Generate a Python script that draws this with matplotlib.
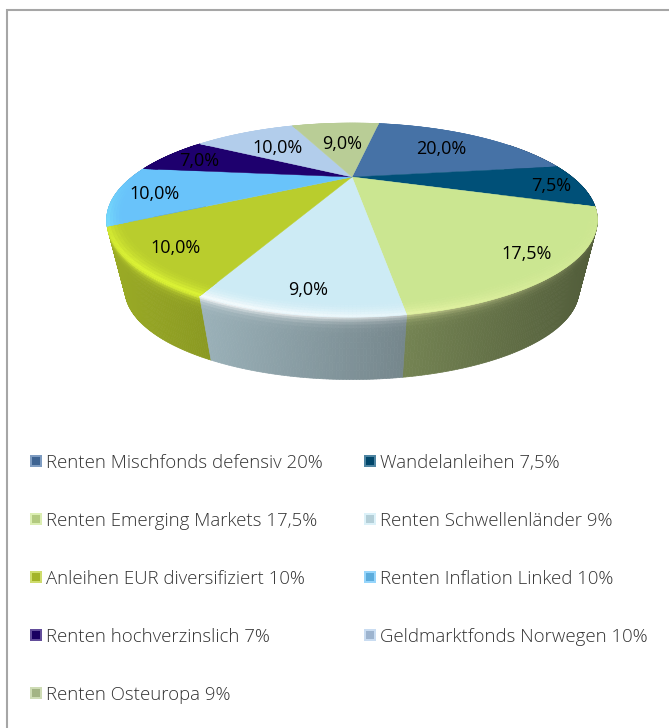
import numpy as np
import matplotlib
matplotlib.use("Agg")
import matplotlib.pyplot as plt
from matplotlib.collections import PolyCollection
from matplotlib.colors import to_rgb

# data
values = [20, 7.5, 17.5, 9, 10, 10, 7, 10, 9]
legend_labels = [
    "Renten Mischfonds defensiv 20%", "Wandelanleihen 7,5%",
    "Renten Emerging Markets 17,5%", "Renten Schwellenländer 9%",
    "Anleihen EUR diversifiziert 10%", "Renten Inflation Linked 10%",
    "Renten hochverzinslich 7%", "Geldmarktfonds Norwegen 10%",
    "Renten Osteuropa 9%",
]
colors = ["#4672a6", "#005078", "#cbe691", "#cdebf5", "#b9cd2d",
          "#69c3fa", "#1e006e", "#b2cdeb", "#b9cd96"]
label_radius = [0.67, 0.87, 0.87, 0.88, 0.86, 0.85, 0.825, 0.64, 0.58]

# pie geometry, in pixels
start_angle = 10
cx, cy = 352, 177
A, B, k = 220, 78, 0.443
bottom_scale, bottom_cy = 0.925, 250

plt.rcParams["font.family"] = ["Open Sans", "DejaVu Sans"]


def project(r, ang, scale=1.0, center_y=cy):
    # circle on the table -> screen, with perspective (back is smaller)
    a = np.radians(ang)
    x = r * np.sin(a)
    y = r * np.cos(a)
    w = 1 + k * y
    return cx + scale * A * x / w, center_y - scale * B * y / w


def mix(c, other, t):
    return tuple(np.array(c) * (1 - t) + np.array(other) * t)


def bright(c):
    return tuple(np.clip(np.array(c) * 1.25, 0, 1))


def front_light(ang, x):
    # the rim only catches light on the front, fading to the right
    f = max(0, -np.cos(np.radians(ang))) * (1 - (x - 107) / 560)
    return min(1, f * 1.4)


fig = plt.figure(figsize=(6.69, 7.28), dpi=100)
ax = fig.add_axes([0, 0, 1, 1])
ax.set_xlim(0, 669)
ax.set_ylim(728, 0)
ax.axis("off")

# frame
ax.plot([6.5, 6.5, 669], [728, 10, 10], color="#a6a6a6", lw=1.5, solid_joinstyle="miter")

edges = start_angle + np.concatenate([[0], np.cumsum(values)]) * 3.6

# side wall, back to front
strips = []
levels = np.linspace(0, 1, 15) ** 2
for i, v in enumerate(values):
    base = to_rgb(colors[i])
    angs = np.linspace(edges[i], edges[i + 1], max(int(v * 7), 8))
    for a0, a1 in zip(angs[:-1], angs[1:]):
        if np.cos(np.radians(a0)) > 0.5:
            continue
        for v0, v1 in zip(levels[:-1], levels[1:]):
            pts = []
            for a, t in [(a0, v0), (a1, v0), (a1, v1), (a0, v1)]:
                xt, yt = project(1, a)
                xb, yb = project(1, a, bottom_scale, bottom_cy)
                pts.append((xt + (xb - xt) * t, yt + (yb - yt) * t))
            xm = pts[0][0]
            shade = 0.84 - (xm - 107) / 490 * 0.44
            wall = mix(base, (0, 0, 0), 1 - shade)
            glow = np.exp(-v0 * 64 / 3.5) * front_light(a0, xm)
            col = mix(wall, bright(base), glow)
            strips.append((np.cos(np.radians((a0 + a1) / 2)), pts, col))
strips.sort(key=lambda s: -s[0])
polys = [s[1] for s in strips]
fcs = [s[2] for s in strips]
ax.add_collection(PolyCollection(polys, facecolors=fcs, edgecolors=fcs, linewidths=0.5))

# top surface with a soft bevel on the rim
polys, fcs = [], []
for i, v in enumerate(values):
    base = to_rgb(colors[i])
    angs = np.linspace(edges[i], edges[i + 1], max(int(v * 6), 8))
    xs, ys = project(1.0, angs)
    polys.append([(cx, cy)] + list(zip(xs, ys)))
    fcs.append(base)
    rings = np.linspace(0.93, 1.0, 8)
    for r0, r1 in zip(rings[:-1], rings[1:]):
        t = ((r0 - 0.93) / 0.07) ** 2
        for a0, a1 in zip(angs[:-1], angs[1:]):
            x0, y0 = project(r0, a0)
            x1, y1 = project(r0, a1)
            x2, y2 = project(r1, a1)
            x3, y3 = project(r1, a0)
            polys.append([(x0, y0), (x1, y1), (x2, y2), (x3, y3)])
            fcs.append(mix(base, bright(base), t * front_light(a0, x0)))
ax.add_collection(PolyCollection(polys, facecolors=fcs, edgecolors=fcs, linewidths=0.3))

# value labels
for i, v in enumerate(values):
    mid = (edges[i] + edges[i + 1]) / 2
    lx, ly = project(label_radius[i], mid)
    ax.text(lx + 1, ly + 2.5, f"{v:.1f}%".replace(".", ","), fontsize=13, color="black",
            ha="center", va="center")

# legend
col_x = [30, 364]
row_y = [461, 519, 577, 635, 693]
for i, lab in enumerate(legend_labels):
    x = col_x[i % 2]
    y = row_y[i // 2]
    base = to_rgb(colors[i])
    ax.fill([x, x + 12, x + 12, x], [y - 6, y - 6, y + 6, y + 6],
            color=mix(base, (1, 1, 1), 0.3), lw=0)
    ax.fill([x + 2, x + 10, x + 10, x + 2], [y - 4, y - 4, y + 4, y + 4],
            color=mix(base, (0, 0, 0), 0.12), lw=0)
    ax.text(x + 16.5, y + 1.5, lab, fontsize=13.4, color="#333333", fontweight="light",
            ha="left", va="center")

fig.savefig("out.png", dpi=100, facecolor="white")
